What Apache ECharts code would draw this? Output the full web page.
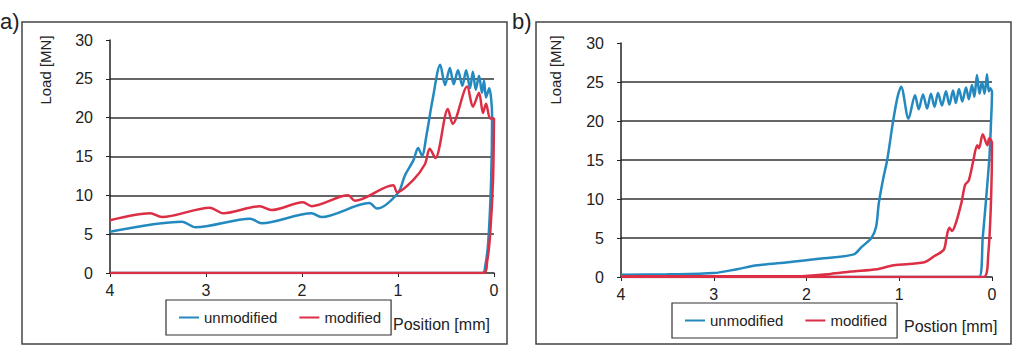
<!DOCTYPE html>
<html>
<head>
<meta charset="utf-8">
<title>Load - Position</title>
<script src="https://cdn.jsdelivr.net/npm/echarts@6.0.0/dist/echarts.min.js"></script>
<style>
    html, body { margin: 0; padding: 0; background: #fff; }
    #chart { width: 1024px; height: 352px; }
</style>
</head>
<body>
<div id="chart"></div>
<script>
// values, [position mm, load MN]
var aUnmodified = [
    [4.00, 5.3], [3.25, 6.6], [3.11, 5.9], [2.54, 7.0], [2.42, 6.4], [1.90, 7.7], [1.80, 7.2],
    [1.30, 9.0], [1.22, 8.3], [1.00, 10.3], [0.93, 12.5], [0.84, 14.5], [0.79, 16.1], [0.75, 15.1],
    [0.70, 18.0], [0.64, 22.3], [0.56, 26.8], [0.51, 24.2], [0.46, 26.4], [0.42, 24.3], [0.375, 26.1],
    [0.33, 24.1], [0.29, 26.1], [0.25, 23.8], [0.22, 25.9], [0.19, 23.6], [0.156, 25.4], [0.125, 23.2],
    [0.104, 24.8], [0.083, 22.6], [0.05, 23.8], [0.02, 20.3], [0.03, 12], [0.06, 4], [0.09, 1],
    [0.12, 0], [4.00, 0]
];
var aModified = [
    [4.00, 6.8], [3.58, 7.7], [3.46, 7.2], [2.96, 8.4], [2.82, 7.7], [2.44, 8.6], [2.32, 8.1],
    [1.99, 9.1], [1.90, 8.6], [1.52, 10.0], [1.45, 9.3], [1.05, 11.3], [1.01, 10.4], [0.84, 12.0],
    [0.72, 14.0], [0.67, 16.0], [0.61, 14.8], [0.48, 21.1], [0.43, 19.2], [0.28, 24.0], [0.22, 21.4],
    [0.156, 23.2], [0.115, 20.6], [0.083, 21.8], [0.04, 19.9], [0.00, 19.9], [0.01, 12], [0.04, 5],
    [0.07, 1.6], [0.11, 0], [4.00, 0]
];
var bUnmodified = [
    [4.00, 0.3], [3.50, 0.35], [3.00, 0.5], [2.75, 1.0], [2.53, 1.5], [2.20, 1.9], [1.81, 2.4],
    [1.49, 2.9], [1.41, 3.8], [1.30, 5.0], [1.25, 6.4], [1.22, 9.5], [1.17, 12.8], [1.13, 15.0],
    [1.07, 19.7], [1.02, 23.0], [0.98, 24.4], [0.90, 20.3], [0.83, 23.3], [0.79, 21.5], [0.744, 23.4], [0.70, 21.6],
    [0.658, 23.5], [0.62, 21.8], [0.582, 23.6], [0.54, 22.0], [0.496, 23.8], [0.46, 22.1], [0.42, 23.9],
    [0.39, 22.3], [0.356, 24.1], [0.32, 22.5], [0.28, 24.3], [0.25, 22.8], [0.216, 24.6], [0.19, 23.1],
    [0.162, 25.9], [0.135, 23.5], [0.108, 25.0], [0.08, 23.5], [0.054, 26.0], [0.035, 23.8], [0.02, 24.2],
    [0.00, 23.7], [0.01, 20], [0.03, 15], [0.10, 5], [0.14, 0], [4.00, 0]
];
var bModified = [
    [4.00, 0.1], [3.00, 0.1], [2.10, 0.1], [1.74, 0.4], [1.52, 0.7], [1.24, 1.0], [1.06, 1.5],
    [0.73, 1.9], [0.62, 2.7], [0.52, 3.5], [0.49, 5.1], [0.46, 6.3], [0.43, 5.9], [0.39, 6.9],
    [0.33, 9.5], [0.29, 11.8], [0.25, 12.4], [0.20, 15.0], [0.16, 16.9], [0.14, 16.5], [0.10, 18.3],
    [0.05, 16.9], [0.03, 17.8], [0.00, 17.2], [0.01, 10], [0.04, 3], [0.09, 0], [4.00, 0]
];
var seriesNames = ['unmodified', 'modified'];
var xTitles = ['Position [mm]', 'Postion [mm]'];
var yTitle = 'Load [MN]';

var font = "'Liberation Sans', Arial, sans-serif";
var blue = '#2389bf';
var red = '#dc2f45';
var ink = '#222';

function xAxisFor(gi) {
    return {
        type: 'value', gridIndex: gi, min: 0, max: 4, interval: 1, inverse: true,
        axisLine: {onZero: false, lineStyle: {color: ink, width: 1.5}},
        axisTick: {show: true, length: 4, lineStyle: {color: ink}},
        axisLabel: {color: ink, fontSize: 16, margin: 9, fontFamily: font},
        splitLine: {show: false}
    };
}

function yAxisFor(gi) {
    return {
        type: 'value', gridIndex: gi, min: 0, max: 30, interval: 5, position: 'left',
        axisLine: {show: true, onZero: false, lineStyle: {color: ink, width: 1.5}},
        axisTick: {show: true, length: 4, lineStyle: {color: ink}},
        axisLabel: {color: ink, fontSize: 16, margin: 17, fontFamily: font},
        // no line at 0 (axis) and none at 30
        splitLine: {show: true, lineStyle: {width: 1.5, color: ['rgba(0,0,0,0)', '#333', '#333', '#333', '#333', '#333', 'rgba(0,0,0,0)']}}
    };
}

function lineSeries(name, data, gi, color) {
    return {
        name: name, type: 'line', xAxisIndex: gi, yAxisIndex: gi, data: data,
        symbol: 'none', showSymbol: false, smooth: 0.3,
        lineStyle: {width: 2.5, color: color}, itemStyle: {color: color}
    };
}

function legendAt(left, top) {
    return {
        left: left, top: top, data: seriesNames, icon: 'rect', itemWidth: 20, itemHeight: 2,
        itemGap: 22, padding: [10, 10, 10, 13], borderColor: '#333', borderWidth: 1.2,
        textStyle: {fontSize: 15, color: ink, fontFamily: font}, selectedMode: false
    };
}

var myChart = echarts.init(document.getElementById('chart'), null, {renderer: 'svg'});

var option = {
    animation: false,
    backgroundColor: '#fff',
    grid: [
        {left: 110, top: 40, width: 384, height: 233},
        {left: 621, top: 43, width: 371, height: 234}
    ],
    xAxis: [xAxisFor(0), xAxisFor(1)],
    yAxis: [yAxisFor(0), yAxisFor(1)],
    legend: [legendAt(166, 300), legendAt(672, 303)],
    series: [
        lineSeries(seriesNames[0], aUnmodified, 0, blue),
        lineSeries(seriesNames[1], aModified, 0, red),
        lineSeries(seriesNames[0], bUnmodified, 1, blue),
        lineSeries(seriesNames[1], bModified, 1, red)
    ],
    graphic: [
        {type: 'rect', z: -1, shape: {x: 22, y: 22, width: 485, height: 322}, style: {fill: 'none', stroke: '#444', lineWidth: 1.5}},
        {type: 'rect', z: -1, shape: {x: 536, y: 22, width: 475, height: 322}, style: {fill: 'none', stroke: '#444', lineWidth: 1.5}},
        {type: 'text', x: 0, y: 21, style: {text: 'a)', fontSize: 22, fontFamily: font, fill: ink, verticalAlign: 'middle'}},
        {type: 'text', x: 512, y: 21, style: {text: 'b)', fontSize: 22, fontFamily: font, fill: ink, verticalAlign: 'middle'}},
        {type: 'text', x: 45, y: 70, rotation: Math.PI / 2, style: {text: yTitle, fontSize: 15, fontFamily: font, fill: ink, align: 'center', verticalAlign: 'middle'}},
        {type: 'text', x: 555, y: 70, rotation: Math.PI / 2, style: {text: yTitle, fontSize: 15, fontFamily: font, fill: ink, align: 'center', verticalAlign: 'middle'}},
        {type: 'text', x: 393, y: 324, style: {text: xTitles[0], fontSize: 16, fontFamily: font, fill: ink, verticalAlign: 'middle'}},
        {type: 'text', x: 904, y: 326, style: {text: xTitles[1], fontSize: 16, fontFamily: font, fill: ink, verticalAlign: 'middle'}}
    ]
};
myChart.setOption(option);
</script>
</body>
</html>
